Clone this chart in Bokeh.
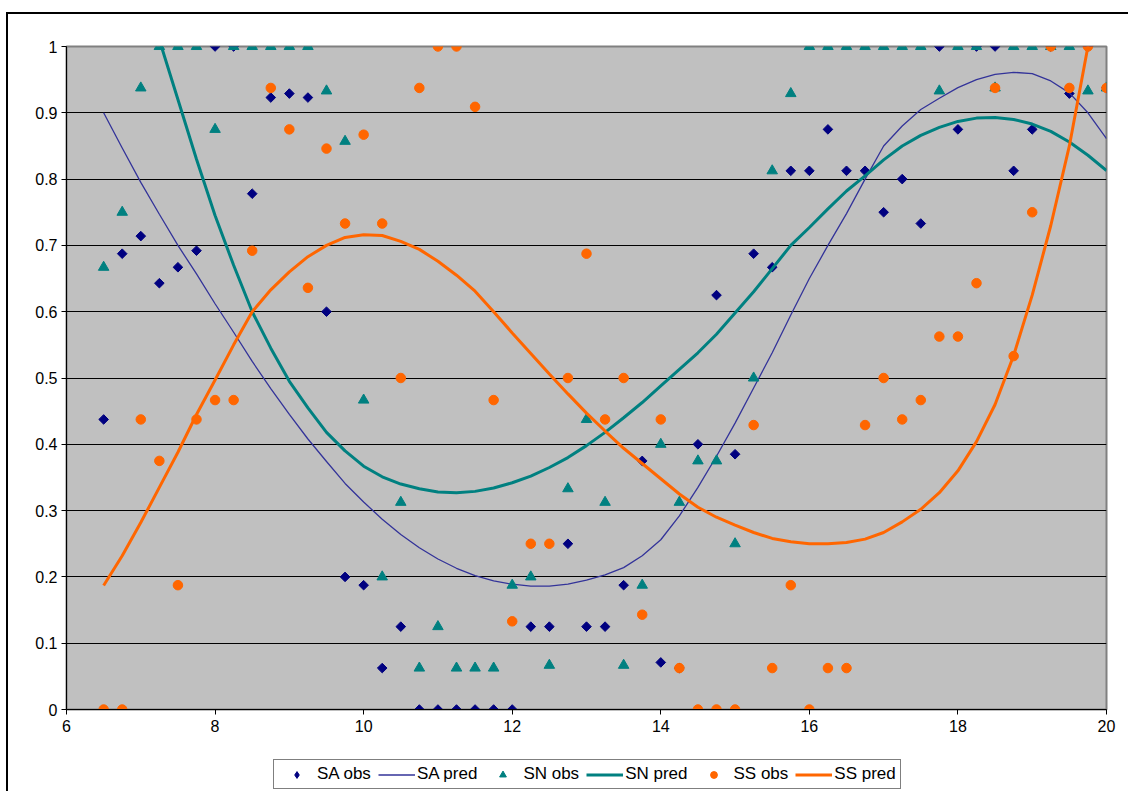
import math
from bokeh.plotting import figure
from bokeh.layouts import column
from bokeh.models import Range1d, Legend, LegendItem, NumeralTickFormatter, FixedTicker
from bokeh.embed import file_html
from bokeh.resources import INLINE

# ---------------- data ----------------
x_obs = [6.5, 6.75, 7.0, 7.25, 7.5, 7.75, 8.0, 8.25, 8.5, 8.75, 9.0, 9.25, 9.5, 9.75,
         10.0, 10.25, 10.5, 10.75, 11.0, 11.25, 11.5, 11.75, 12.0, 12.25, 12.5, 12.75,
         13.0, 13.25, 13.5, 13.75, 14.0, 14.25, 14.5, 14.75, 15.0, 15.25, 15.5, 15.75,
         16.0, 16.25, 16.5, 16.75, 17.0, 17.25, 17.5, 17.75, 18.0, 18.25, 18.5, 18.75,
         19.0, 19.25, 19.5, 19.75, 20.0]

sa_obs = [0.4375, 0.6875, 0.714, 0.643, 0.667, 0.692, 1.0, 1.0, 0.778, 0.923, 0.929, 0.923, 0.6, 0.2,
          0.1875, 0.0625, 0.125, 0.0, 0.0, 0.0, 0.0, 0.0, 0.0, 0.125, 0.125, 0.25,
          0.125, 0.125, 0.1875, 0.375, 0.071, 0.0625, 0.4, 0.625, 0.385, 0.6875, 0.667, 0.8125,
          0.8125, 0.875, 0.8125, 0.8125, 0.75, 0.8, 0.733, 1.0, 0.875, 1.0, 1.0, 0.8125,
          0.875, 1.0, 0.929, 1.0, 0.9375]

sn_obs = [0.667, 0.75, 0.9375, 1.0, 1.0, 1.0, 0.875, 1.0, 1.0, 1.0, 1.0, 1.0, 0.933, 0.857,
          0.4667, 0.2, 0.3125, 0.0625, 0.125, 0.0625, 0.0625, 0.0625, 0.1875, 0.2, 0.0667, 0.333,
          0.4375, 0.3125, 0.0667, 0.1875, 0.4, 0.3125, 0.375, 0.375, 0.25, 0.5, 0.8125, 0.929,
          1.0, 1.0, 1.0, 1.0, 1.0, 1.0, 1.0, 0.933, 1.0, 1.0, 0.9375, 1.0,
          1.0, 1.0, 1.0, 0.933, 0.9375]

ss_obs = [0.0, 0.0, 0.4375, 0.375, 0.1875, 0.4375, 0.4667, 0.4667, 0.692, 0.9375, 0.875, 0.636, 0.846, 0.733,
          0.867, 0.733, 0.5, 0.9375, 1.0, 1.0, 0.909, 0.4667, 0.133, 0.25, 0.25, 0.5,
          0.6875, 0.4375, 0.5, 0.143, 0.4375, 0.0625, 0.0, 0.0, 0.0, 0.429, 0.0625, 0.1875,
          0.0, 0.0625, 0.0625, 0.429, 0.5, 0.4375, 0.4667, 0.5625, 0.5625, 0.643, 0.9375, 0.533,
          0.75, 1.0, 0.9375, 1.0, 0.9375]

sa_pred = [0.900, 0.847, 0.795, 0.747, 0.700, 0.657, 0.612, 0.569, 0.525, 0.484, 0.445, 0.408, 0.374, 0.341,
           0.313, 0.287, 0.264, 0.244, 0.227, 0.213, 0.202, 0.194, 0.189, 0.186, 0.186, 0.189,
           0.195, 0.203, 0.214, 0.232, 0.256, 0.292, 0.335, 0.382, 0.432, 0.485, 0.538, 0.595,
           0.650, 0.700, 0.748, 0.800, 0.850, 0.880, 0.905, 0.922, 0.938, 0.950, 0.958, 0.961,
           0.959, 0.948, 0.930, 0.900, 0.861]

sn_pred = [1.37, 1.24, 1.12, 1.01, 0.92, 0.83, 0.745, 0.67, 0.60, 0.545, 0.495, 0.455, 0.418, 0.39,
           0.367, 0.351, 0.34, 0.333, 0.328, 0.327, 0.329, 0.334, 0.342, 0.352, 0.365, 0.38,
           0.398, 0.418, 0.44, 0.463, 0.488, 0.513, 0.538, 0.566, 0.598, 0.63, 0.665, 0.70,
           0.727, 0.755, 0.782, 0.805, 0.829, 0.85, 0.866, 0.878, 0.887, 0.892, 0.893, 0.89,
           0.883, 0.872, 0.856, 0.836, 0.813]

ss_pred = [0.187, 0.232, 0.282, 0.335, 0.388, 0.445, 0.497, 0.55, 0.60, 0.633, 0.66, 0.683, 0.70, 0.712,
           0.716, 0.715, 0.706, 0.694, 0.676, 0.655, 0.631, 0.60, 0.568, 0.537, 0.506, 0.476,
           0.447, 0.42, 0.394, 0.371, 0.348, 0.325, 0.305, 0.29, 0.278, 0.267, 0.258, 0.253,
           0.25, 0.25, 0.252, 0.257, 0.267, 0.283, 0.302, 0.327, 0.36, 0.404, 0.46, 0.534,
           0.625, 0.73, 0.85, 1.0, 1.16]

x_ticks = [6, 8, 10, 12, 14, 16, 18, 20]
y_ticks = [0, 0.1, 0.2, 0.3, 0.4, 0.5, 0.6, 0.7, 0.8, 0.9, 1.0]

series_names = ["SA obs", "SA pred", "SN obs", "SN pred", "SS obs", "SS pred"]

FONT = "Liberation Sans"
NAVY, BLUE, TEAL, ORANGE = "#000080", "#333399", "#008080", "#FF6600"

# ---------------- main chart ----------------
p = figure(width=1120, height=725, output_backend="svg", toolbar_location=None,
           x_range=Range1d(6, 20), y_range=Range1d(0, 1),
           min_border_left=58, min_border_right=22, min_border_top=32, min_border_bottom=30)

p.background_fill_color = "#C0C0C0"
p.border_fill_color = "white"
p.outline_line_color = "#808080"
p.outline_line_width = 2

p.xgrid.visible = False
p.ygrid.ticker = FixedTicker(ticks=y_ticks)
p.ygrid.grid_line_color = "black"
p.ygrid.grid_line_width = 1

for ax in (p.xaxis[0], p.yaxis[0]):
    ax.axis_line_color = "black"
    ax.major_tick_line_color = "black"
    ax.major_tick_in = 0
    ax.major_tick_out = 5
    ax.minor_tick_line_color = None
    ax.major_label_text_font = FONT
    ax.major_label_text_font_size = "16px"
    ax.major_label_text_color = "black"

p.xaxis.ticker = FixedTicker(ticks=x_ticks)
p.yaxis.ticker = FixedTicker(ticks=y_ticks)
p.yaxis.formatter = NumeralTickFormatter(format="0.[0]")
p.xaxis.major_label_standoff = 5
p.yaxis.major_label_standoff = 4

p.scatter(x_obs, sa_obs, marker="square", angle=math.pi / 4, size=6.8,
          fill_color=NAVY, line_color=NAVY)
p.line(x_obs, sa_pred, line_color=BLUE, line_width=1.3)
p.scatter(x_obs, sn_obs, marker="triangle", size=10.5, fill_color=TEAL, line_color=TEAL)
p.line(x_obs, sn_pred, line_color=TEAL, line_width=3)
p.scatter(x_obs, ss_obs, marker="circle", size=9.5, fill_color=ORANGE, line_color=ORANGE)
p.line(x_obs, ss_pred, line_color=ORANGE, line_width=3)

# ---------------- legend strip below the chart ----------------
# Key renderers reuse the first data points; their x lies outside this strip's
# own range, so only the legend samples are visible.
lg = figure(width=1120, height=52, output_backend="svg", toolbar_location=None,
            x_range=Range1d(0, 1), y_range=Range1d(0, 1),
            x_axis_location=None, y_axis_location=None,
            min_border_left=0, min_border_right=0, min_border_top=0, min_border_bottom=0)
lg.outline_line_color = None
lg.background_fill_color = "white"
lg.border_fill_color = "white"
lg.xgrid.visible = False
lg.ygrid.visible = False

kx = x_obs[:2]
k1 = lg.scatter(kx, sa_obs[:2], marker="diamond", size=11, fill_color=NAVY, line_color=NAVY)
k2 = lg.line(kx, sa_pred[:2], line_color=BLUE, line_width=1.3)
k3 = lg.scatter(kx, sn_obs[:2], marker="triangle", size=10.5, fill_color=TEAL, line_color=TEAL)
k4 = lg.line(kx, sn_pred[:2], line_color=TEAL, line_width=3)
k5 = lg.scatter(kx, ss_obs[:2], marker="circle", size=9.5, fill_color=ORANGE, line_color=ORANGE)
k6 = lg.line(kx, ss_pred[:2], line_color=ORANGE, line_width=3)

legend = Legend(items=[LegendItem(label=n, renderers=[r])
                       for n, r in zip(series_names, [k1, k2, k3, k4, k5, k6])],
                orientation="horizontal", location=(207, 2))
legend.border_line_color = "black"
legend.border_line_width = 1
legend.background_fill_color = "white"
legend.background_fill_alpha = 1
legend.label_text_font = FONT
legend.label_text_font_size = "17px"
legend.label_text_color = "black"
legend.glyph_width = 37
legend.glyph_height = 17
legend.label_height = 17
legend.label_standoff = 2
legend.spacing = 7
legend.padding = 4
legend.margin = 0
lg.add_layout(legend, "center")

layout = column(p, lg, spacing=0)
layout.styles = {"border-left": "2px solid black", "border-top": "2px solid black",
                 "margin-left": "6px", "margin-top": "12px", "margin-bottom": "-8px"}

open("out.html", "w").write(file_html(layout, INLINE))
